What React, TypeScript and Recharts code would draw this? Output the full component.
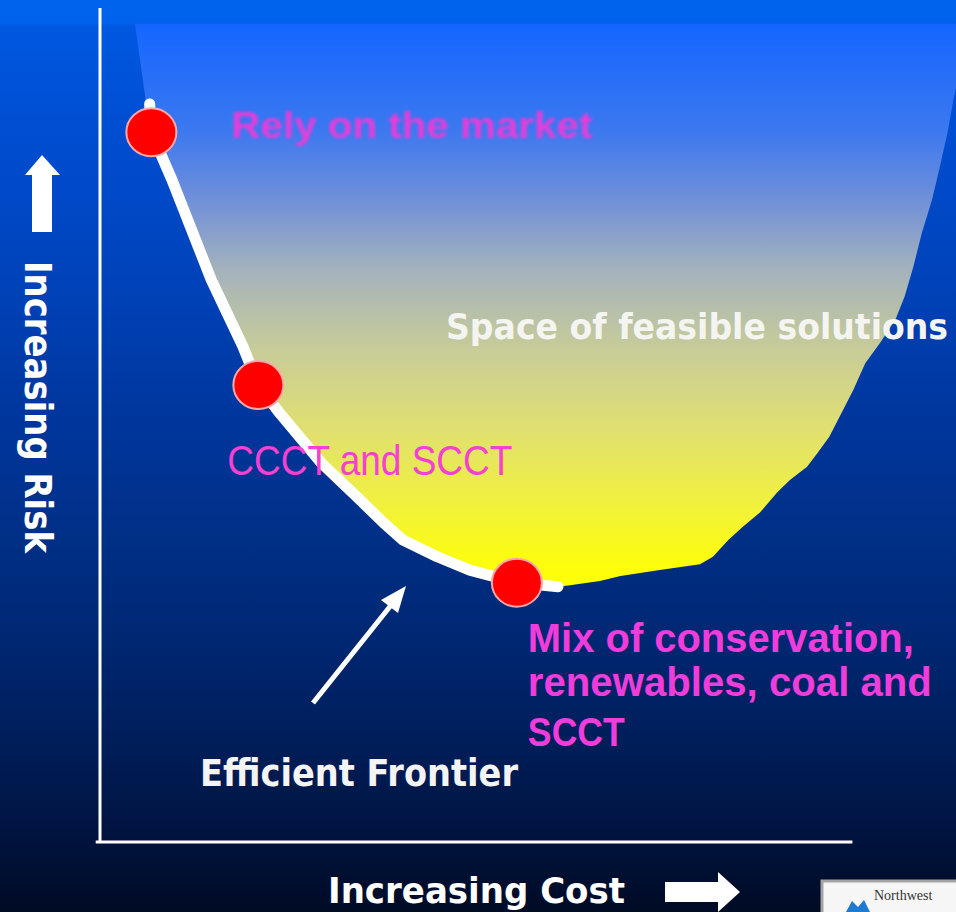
import React from 'react';
import { ComposedChart, Area, Line, Scatter, XAxis, YAxis, ReferenceLine } from 'recharts';

// Lower edge of the feasible portfolio space (cost -> minimum risk)
const feasibleCost = [
  4.1, 5.3, 6.0, 8.4, 13.0, 16.7, 18.5, 21.0, 25.9, 30.0, 33.1, 35.4, 39.4, 43.2, 48.7, 53.5,
  54.9, 58.4, 60.8, 65.4, 70.1, 71.6, 73.4, 75.1, 77.1, 79.1, 80.6, 82.6, 83.8, 85.2, 86.4,
  88.0, 89.4, 91.1, 92.9, 94.0, 95.0, 96.0, 97.2, 98.1, 99.0, 99.7, 100.0,
];
const feasibleFloor = [
  98.0, 89.2, 85.1, 79.4, 67.4, 59.4, 54.8, 51.4, 45.4, 41.4, 38.3, 36.2, 34.2, 32.6, 31.1, 30.6,
  30.8, 31.3, 31.9, 32.6, 33.3, 34.2, 36.2, 37.8, 39.5, 41.9, 43.4, 45.0, 46.6, 48.6, 51.0,
  54.2, 57.4, 59.8, 62.6, 65.4, 68.9, 73.0, 77.0, 80.9, 85.0, 89.0, 90.4,
];
const feasibleCeiling = 98.1;

// Efficient frontier
const frontierCost = [5.8, 6.0, 8.4, 13.0, 16.7, 18.5, 21.0, 25.9, 30.0, 33.1, 35.4, 39.4, 43.2, 48.7, 53.5];
const frontierRisk = [88.5, 85.1, 79.4, 67.4, 59.4, 54.8, 51.4, 45.4, 41.4, 38.3, 36.2, 34.2, 32.6, 31.1, 30.6];

// Highlighted portfolios on the frontier
const portfolioCost = [6.0, 18.5, 48.7];
const portfolioRisk = [85.1, 54.8, 31.1];
const portfolioLabels = [
  ['Rely on the market'],
  ['CCCT and SCCT'],
  ['Mix of conservation,', 'renewables, coal and', 'SCCT'],
];

const xTitle = 'Increasing Cost';
const yTitle = 'Increasing Risk';
const regionTitle = 'Space of feasible solutions';
const frontierTitle = 'Efficient Frontier';
const badgeText = 'Northwest';

const feasibleData = feasibleCost.map((c, i) => ({ c, band: [feasibleFloor[i], feasibleCeiling] }));
const frontierData = frontierCost.map((c, i) => ({ c, r: frontierRisk[i] }));
const portfolioData = portfolioCost.map((c, i) => ({ c, r: portfolioRisk[i], idx: i }));

// Callout text placement relative to each marker
const calloutStyle = [
  { dx: 80, dy: [6], size: 36, weight: 700, fill: '#E63CDA', widths: [361], blur: true },
  { dx: -31, dy: [90], size: 42, weight: 400, fill: '#F640D2', widths: [285], blur: false },
  { dx: 11, dy: [69, 113, 163], size: 40, weight: 700, fill: '#F03CDA', widths: [386, 404, 97], blur: false },
];

const sansBold = '"DejaVu Sans", Verdana, sans-serif';
const arialLike = '"Liberation Sans", Arial, sans-serif';

const PortfolioMarker = (props: any) => {
  const { cx, cy, payload } = props;
  const s = calloutStyle[payload.idx];
  return (
    <g>
      <ellipse cx={cx} cy={cy} rx={25} ry={24} fill="#FF0000" stroke="#FFA8A8" strokeWidth={2} />
      {portfolioLabels[payload.idx].map((line, j) => (
        <text
          key={j}
          x={cx + s.dx}
          y={cy + s.dy[j]}
          fontFamily={arialLike}
          fontSize={s.size}
          fontWeight={s.weight}
          fill={s.fill}
          textLength={s.widths[j]}
          lengthAdjust="spacingAndGlyphs"
          filter={s.blur ? 'url(#softText)' : undefined}
        >
          {line}
        </text>
      ))}
    </g>
  );
};

const renderAnnotations = () => (
  <g>
    {/* vertical axis title with arrow */}
    <polygon points="42,155 60,175 52,175 52,232 32,232 32,175 25,175" fill="#FFFFFF" />
    <text
      transform="translate(25,261) rotate(90)"
      fontFamily={sansBold}
      fontWeight={700}
      fontSize={37}
      fill="#FFFFFF"
      textLength={292}
      lengthAdjust="spacingAndGlyphs"
    >
      {yTitle}
    </text>

    {/* horizontal axis title with arrow */}
    <text
      x={328}
      y={903}
      fontFamily={sansBold}
      fontWeight={700}
      fontSize={36}
      fill="#FFFFFF"
      textLength={297}
      lengthAdjust="spacingAndGlyphs"
    >
      {xTitle}
    </text>
    <polygon points="665,882 718,882 718,872 740,892 718,912 718,902 665,902" fill="#FFFFFF" />

    {/* region caption */}
    <text
      x={446}
      y={339}
      fontFamily={sansBold}
      fontWeight={700}
      fontSize={36}
      fill="#F4F4F0"
      textLength={502}
      lengthAdjust="spacingAndGlyphs"
    >
      {regionTitle}
    </text>

    {/* frontier pointer */}
    <line x1={313} y1={703} x2={392} y2={604} stroke="#FFFFFF" strokeWidth={5} />
    <polygon points="406,586 398,613 381,600" fill="#FFFFFF" />
    <text
      x={200}
      y={786}
      fontFamily={sansBold}
      fontWeight={700}
      fontSize={37}
      fill="#F4F4F4"
      textLength={318}
      lengthAdjust="spacingAndGlyphs"
    >
      {frontierTitle}
    </text>

    {/* badge in the corner */}
    <rect x={822} y={881} width={150} height={40} fill="#F6F6F6" stroke="#A4A4A4" strokeWidth={3} />
    <text x={874} y={900} fontFamily='"Liberation Serif", serif' fontSize={14} fill="#333333">
      {badgeText}
    </text>
    <path d="M846,912 L852,901 L858,907 L864,900 L870,912 Z" fill="#1E7AD2" />
  </g>
);

export default function App() {
  return (
    <div
      style={{
        position: 'absolute',
        left: 0,
        top: 0,
        width: 956,
        height: 912,
        overflow: 'hidden',
        background:
          'linear-gradient(180deg, #0063EE 0px, #0062EC 23px, #0058E0 26px, #004CCF 150px, #0041B6 300px, #00369C 420px, #002F86 540px, #002670 650px, #001C55 760px, #00123A 850px, #000B24 912px)',
      }}
    >
      <ComposedChart width={956} height={912} margin={{ top: 8, right: 0, bottom: 70, left: 99 }}>
        <defs>
          <linearGradient id="feasibleFill" gradientUnits="userSpaceOnUse" x1={0} y1={24} x2={0} y2={590}>
            <stop offset="0" stopColor="#1466FF" />
            <stop offset="0.187" stopColor="#3C78F0" />
            <stop offset="0.311" stopColor="#7090D8" />
            <stop offset="0.435" stopColor="#A4B2BC" />
            <stop offset="0.576" stopColor="#C8CC98" />
            <stop offset="0.717" stopColor="#E0E070" />
            <stop offset="0.841" stopColor="#F0F040" />
            <stop offset="0.947" stopColor="#FCFC10" />
            <stop offset="1" stopColor="#FFFF00" />
          </linearGradient>
          <filter id="softText" x="-5%" y="-30%" width="110%" height="160%">
            <feGaussianBlur stdDeviation={1.8} />
          </filter>
        </defs>
        <XAxis type="number" dataKey="c" domain={[0, 100]} hide />
        <Area
          data={feasibleData}
          type="linear"
          dataKey="band"
          stroke="none"
          fill="url(#feasibleFill)"
          fillOpacity={1}
          dot={false}
          activeDot={false}
          isAnimationActive={false}
        />
        <Line
          data={frontierData}
          type="linear"
          dataKey="r"
          stroke="#FFFFFF"
          strokeWidth={11}
          strokeLinecap="round"
          strokeLinejoin="round"
          dot={false}
          activeDot={false}
          isAnimationActive={false}
        />
        <Scatter data={portfolioData} shape={PortfolioMarker} isAnimationActive={false} />
        <ReferenceLine
          segment={[
            { x: -0.5, y: 0 },
            { x: 87.9, y: 0 },
          ]}
          stroke="#FFFFFF"
          strokeWidth={3}
          ifOverflow="visible"
        />
        <YAxis
          type="number"
          dataKey="r"
          domain={[0, 100]}
          width={1}
          tick={false}
          tickLine={false}
          axisLine={{ stroke: '#FFFFFF', strokeWidth: 3 }}
          label={renderAnnotations}
        />
      </ComposedChart>
    </div>
  );
}
